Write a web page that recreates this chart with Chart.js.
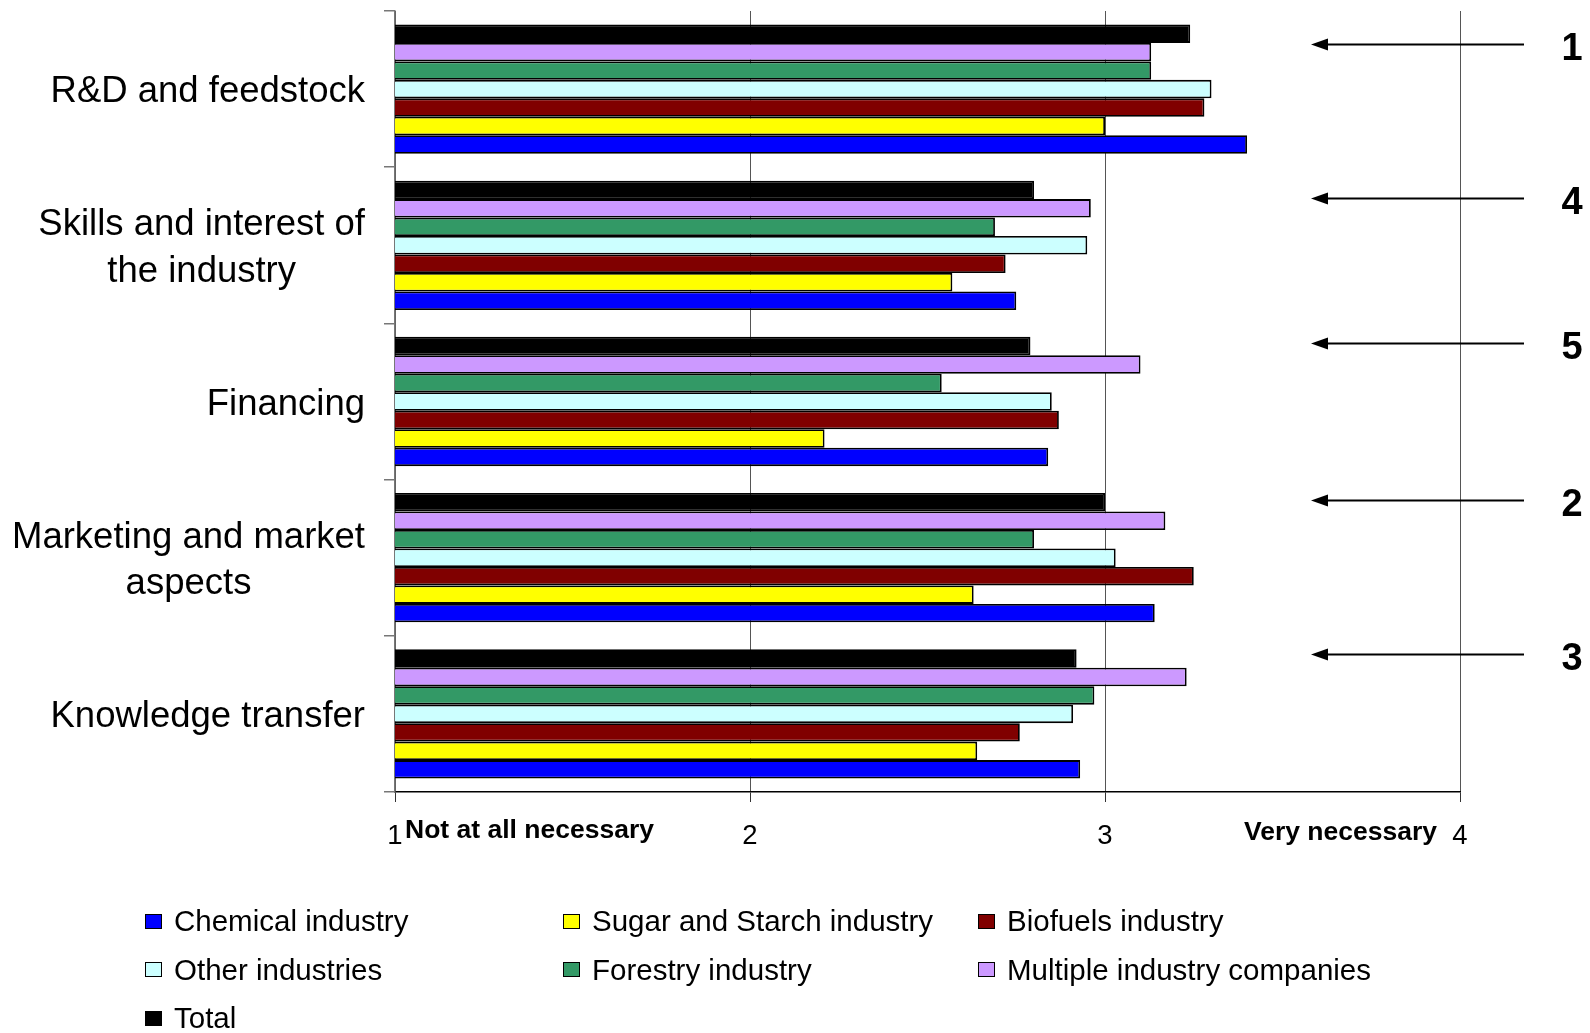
<!DOCTYPE html>
<html>
<head>
<meta charset="utf-8">
<script src="https://cdn.jsdelivr.net/npm/chart.js@4.4.0/dist/chart.umd.min.js"></script>
<style>
    body { margin: 0; background: #fff; font-family: Arial, "Liberation Sans", sans-serif; }
    #contenedor { position: relative; width: 1590px; height: 1033px; }
    #grafico { position: absolute; left: 0; top: 0; }
    #leyenda {
        position: absolute; left: 145px; top: 897px;
        display: grid; grid-template-columns: 418px 415px 420px; grid-auto-rows: 48.5px;
    }
    .item { display: flex; align-items: center; font-size: 29.5px; color: #000; white-space: nowrap; }
    .caja { width: 17px; height: 15px; border: 1.5px solid #000; box-sizing: border-box; margin-right: 12px; }
</style>
</head>
<body>
<div id="contenedor">
    <canvas id="grafico" width="1590" height="1033"></canvas>
    <div id="leyenda"></div>
</div>
<script>
// Categorías (de arriba hacia abajo) y ranking de cada una
const categorias = [
    ['R&D and feedstock'],
    ['Skills and interest of', 'the industry'],
    ['Financing'],
    ['Marketing and market', 'aspects'],
    ['Knowledge transfer']
];
const ranking = ['1', '4', '5', '2', '3'];

// Escala 1 = nada necesario, 4 = muy necesario
const escalaTicks = [1, 2, 3, 4];

const nombresSeries = [
    'Chemical industry',
    'Sugar and Starch industry',
    'Biofuels industry',
    'Other industries',
    'Forestry industry',
    'Multiple industry companies',
    'Total'
];
const coloresSeries = ['#0000FF', '#FFFF00', '#800000', '#CCFFFF', '#339966', '#CC99FF', '#000000'];

// Valores promedio por sector
const quimica   = [3.40, 2.75, 2.84, 3.14, 2.93];
const azucar    = [3.00, 2.57, 2.21, 2.63, 2.64];
const biocomb   = [3.28, 2.72, 2.87, 3.25, 2.76];
const otras     = [3.30, 2.95, 2.85, 3.03, 2.91];
const forestal  = [3.13, 2.69, 2.54, 2.80, 2.97];
const multiples = [3.13, 2.96, 3.10, 3.17, 3.23];
const total     = [3.24, 2.80, 2.79, 3.00, 2.92];

const valoresSeries = [quimica, azucar, biocomb, otras, forestal, multiples, total];

const fuente = 'Arial, "Liberation Sans", sans-serif';

// pequeño ajuste vertical de cada flecha respecto a la barra Total
const desplazFlecha = [10, 8, -3, -2, -4];

// Leyenda en tres columnas
const leyenda = document.getElementById('leyenda');
nombresSeries.forEach((nombre, i) => {
    const item = document.createElement('div');
    item.className = 'item';
    const caja = document.createElement('span');
    caja.className = 'caja';
    caja.style.background = coloresSeries[i];
    item.appendChild(caja);
    item.appendChild(document.createTextNode(nombre));
    leyenda.appendChild(item);
});

// Textos extra: etiquetas de categoría, extremos de la escala y flechas de ranking
const anotaciones = {
    id: 'anotaciones',
    afterDraw(chart) {
        const { ctx, scales: { x, y } } = chart;
        ctx.save();
        ctx.fillStyle = '#000';
        ctx.strokeStyle = '#000';

        ctx.font = `36.5px ${fuente}`;
        ctx.textBaseline = 'middle';
        ctx.textAlign = 'center';
        const altoLinea = 46.5;
        chart.data.labels.forEach((lineas, i) => {
            const anchoBloque = Math.max(...lineas.map(l => ctx.measureText(l).width));
            const cx = 365 - anchoBloque / 2;
            const cy = y.getPixelForValue(i) + 3;
            lineas.forEach((l, j) => {
                ctx.fillText(l, cx, cy + (j - (lineas.length - 1) / 2) * altoLinea);
            });
        });

        ctx.font = `bold 26.5px ${fuente}`;
        ctx.textAlign = 'left';
        ctx.fillText('Not at all necessary', x.getPixelForValue(1) + 10, 831);
        ctx.textAlign = 'right';
        ctx.fillText('Very necessary', x.getPixelForValue(4) - 23, 833);

        // flechas apuntando al grupo, con el número de ranking
        const metaTotal = chart.getDatasetMeta(0);
        ctx.lineWidth = 2;
        ctx.font = `bold 38px ${fuente}`;
        ctx.textAlign = 'center';
        ranking.forEach((r, i) => {
            const ya = Math.round(metaTotal.data[i].y + desplazFlecha[i]) + 0.5;
            ctx.beginPath();
            ctx.moveTo(1524, ya);
            ctx.lineTo(1326, ya);
            ctx.stroke();
            ctx.beginPath();
            ctx.moveTo(1311, ya);
            ctx.lineTo(1328, ya - 6);
            ctx.lineTo(1328, ya + 6);
            ctx.closePath();
            ctx.fill();
            ctx.fillText(r, 1572, ya + 5);
        });
        ctx.restore();
    }
};

// Datasets de arriba hacia abajo dentro de cada grupo: Total primero, Chemical al final
const datasets = valoresSeries.map((valores, i) => ({
    label: nombresSeries[i],
    data: valores,
    backgroundColor: coloresSeries[i],
    borderColor: '#000',
    borderWidth: 1.8,
    borderSkipped: false,
    barPercentage: 1,
    categoryPercentage: 0.828
})).reverse();

const ctx = document.getElementById('grafico').getContext('2d');
const grafico = new Chart(ctx, {
    type: 'bar',
    data: {
        labels: categorias,
        datasets
    },
    options: {
        indexAxis: 'y',
        responsive: false,
        animation: false,
        layout: { padding: { top: 11, right: 130, bottom: 0, left: 0 } },
        plugins: {
            legend: { display: false },
            tooltip: { enabled: false }
        },
        scales: {
            x: {
                min: 1,
                max: 4,
                afterBuildTicks: escala => {
                    escala.ticks = escalaTicks.map(v => ({ value: v }));
                },
                ticks: {
                    color: '#000',
                    font: { size: 27.5, family: fuente },
                    padding: 18,
                    maxRotation: 0
                },
                grid: { color: '#555', tickColor: '#333', tickLength: 10, lineWidth: 1 },
                border: { color: '#000', width: 1.5 },
                afterFit: escala => { escala.height = 1033 - 792; }
            },
            y: {
                ticks: { display: false },
                grid: { offset: true, drawOnChartArea: false, tickLength: 11, color: '#777', lineWidth: 1.5 },
                border: { color: '#777', width: 1.5 },
                afterFit: escala => { escala.width = 395; }
            }
        }
    },
    plugins: [anotaciones]
});
</script>
</body>
</html>
